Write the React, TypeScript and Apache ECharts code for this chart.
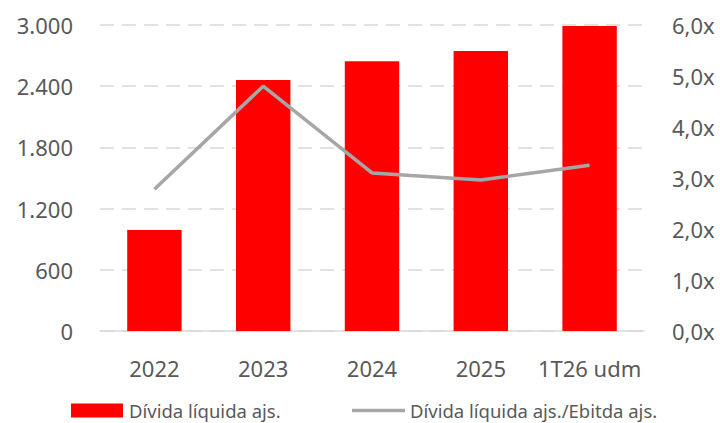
import React, { useEffect, useRef } from "react";
import * as echarts from "echarts";

const categories = ["2022", "2023", "2024", "2025", "1T26 udm"];
const debt = [990, 2460, 2645, 2745, 2990];
const leverage = [2.78, 4.8, 3.1, 2.96, 3.25];
const barName = "Dívida líquida ajs.";
const lineName = "Dívida líquida ajs./Ebitda ajs.";

const FONT = "'Noto Sans', 'Open Sans', sans-serif";
const TXT = "#595959";

export default function App() {
  const ref = useRef<HTMLDivElement>(null);
  useEffect(() => {
    if (!ref.current) return;
    const chart = echarts.init(ref.current, null, { renderer: "svg" });
    chart.setOption({
      animation: false,
      textStyle: { fontFamily: FONT },
      grid: { left: 100, right: 76, top: 25, bottom: 92, containLabel: false },
      legend: [
        {
          data: [{ name: barName, icon: "rect" }],
          left: 66,
          top: 396,
          itemWidth: 52,
          itemHeight: 14,
          itemGap: 6,
          textStyle: { color: TXT, fontSize: 18.5, fontFamily: FONT, padding: [0, 0, 0, 1] },
        },
        {
          data: [{ name: lineName, icon: "rect", itemStyle: { color: "#a6a6a6" } }],
          left: 347,
          top: 396,
          itemWidth: 53,
          itemHeight: 3.5,
          textStyle: { color: TXT, fontSize: 18.5, fontFamily: FONT },
        },
      ],
      xAxis: {
        type: "category",
        data: categories,
        axisTick: { show: false },
        axisLine: { lineStyle: { color: "#d9d9d9", width: 1.5 } },
        axisLabel: { color: TXT, fontSize: 22, margin: 26, fontFamily: FONT, interval: 0 },
      },
      yAxis: [
        {
          type: "value",
          min: 0,
          max: 3000,
          interval: 600,
          axisLine: { show: false },
          axisTick: { show: false },
          axisLabel: {
            color: TXT,
            fontSize: 22,
            margin: 27,
            fontFamily: FONT,
            formatter: (v: number) => v.toLocaleString("de-DE"),
          },
          splitLine: { lineStyle: { color: "#d9d9d9", type: [14, 8], width: 1.5 } },
        },
        {
          type: "value",
          min: 0,
          max: 6,
          interval: 1,
          axisLine: { show: false },
          axisTick: { show: false },
          axisLabel: {
            color: TXT,
            fontSize: 22,
            margin: 28,
            fontFamily: FONT,
            formatter: (v: number) => v.toFixed(1).replace(".", ",") + "x",
          },
          splitLine: { show: false },
        },
      ],
      series: [
        {
          name: barName,
          type: "bar",
          data: debt,
          barWidth: "50%",
          itemStyle: { color: "#ff0000" },
          yAxisIndex: 0,
        },
        {
          name: lineName,
          type: "line",
          data: leverage,
          yAxisIndex: 1,
          symbol: "none",
          lineStyle: { color: "#a6a6a6", width: 3.5 },
          itemStyle: { color: "#a6a6a6" },
        },
      ],
    });
    return () => chart.dispose();
  }, []);
  return <div ref={ref} style={{ width: 720, height: 423, position: "absolute", left: 0, top: 0 }} />;
}
